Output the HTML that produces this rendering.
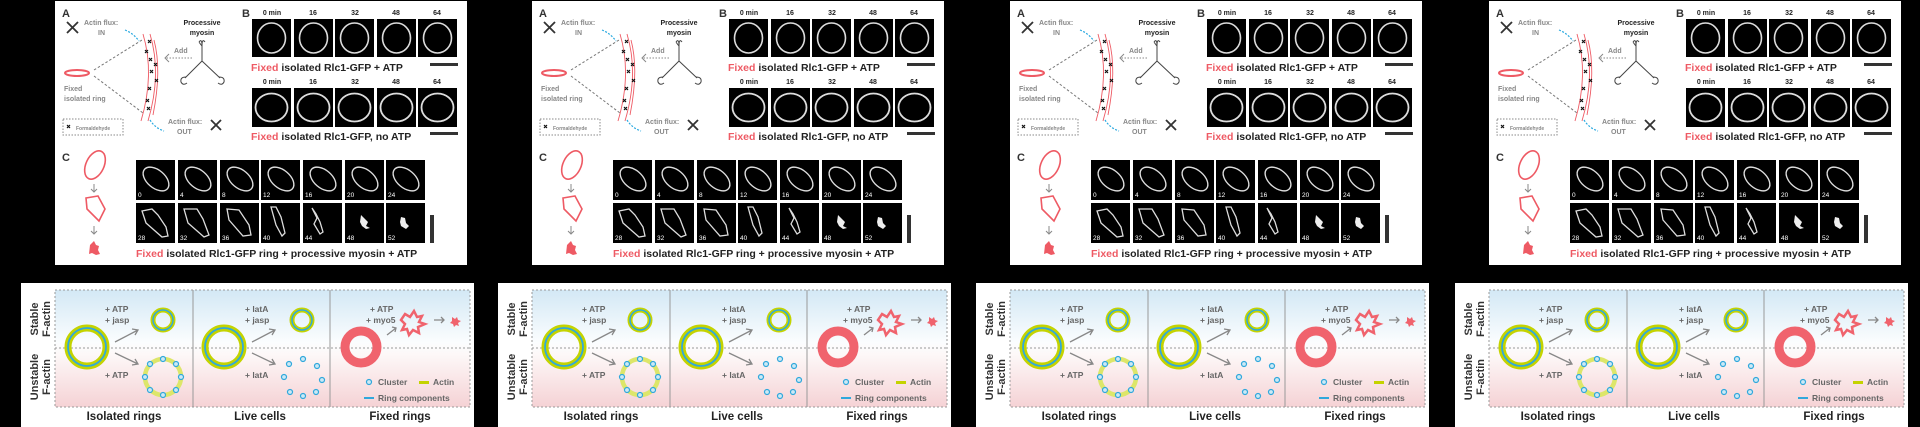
<!DOCTYPE html>
<html><head><meta charset="utf-8"><style>
html,body{margin:0;padding:0;background:#000;width:1920px;height:427px;overflow:hidden}
svg{display:block}
text{font-family:"Liberation Sans",Arial,sans-serif;font-weight:bold}
.g{fill:#888}.s{font-size:7px}.cap{font-size:10.5px;fill:#222}.r{fill:#ee5a64}.lb{font-size:7px;fill:#222}.w{fill:#fff;font-size:6.5px;font-weight:normal}
.bt{font-size:8.5px;fill:#666}.ax{font-size:11px;fill:#333}.big{font-size:11.5px;fill:#222}
</style></head><body>
<svg width="1920" height="427" viewBox="0 0 1920 427" xmlns="http://www.w3.org/2000/svg">
<defs>
<linearGradient id="bg" x1="0" y1="0" x2="0" y2="1">
<stop offset="0" stop-color="#d3e8f5"/><stop offset="0.45" stop-color="#fbfdfe"/><stop offset="0.55" stop-color="#fdf8f8"/><stop offset="1" stop-color="#f5d2d5"/></linearGradient>
<g id="fb1"><rect width="39" height="38" fill="#000"/><ellipse cx="19.5" cy="19" rx="14" ry="15" fill="none" stroke="#ddd" stroke-width="1.6"/></g>
<g id="fb2"><rect width="39" height="39" fill="#000"/><ellipse cx="19.5" cy="19.5" rx="16" ry="14" fill="none" stroke="#ddd" stroke-width="1.8"/></g>
<g id="fc"><rect width="39" height="40" fill="#000"/><ellipse cx="20" cy="19" rx="15" ry="9" transform="rotate(40 20 19)" fill="none" stroke="#ddd" stroke-width="1.4"/></g>
<g id="gfx">
<rect x="55" y="1" width="412" height="264" fill="#fff"/>
<path d="M67 22l11 11M78 22l-11 11M211 120l10 10M221 120l-10 10" stroke="#333" stroke-width="1.8"/>
<path d="M125 30q8 3 14 11M150 120q5 8 14 11" stroke="#29a9e0" stroke-width="1.2" fill="none" stroke-dasharray="2 1.5"/>
<path d="M94 70L142 40M94 76L143 113" stroke="#777" stroke-dasharray="2.5 2" fill="none"/>
<ellipse cx="77" cy="73" rx="12" ry="3" fill="none" stroke="#ee5a64" stroke-width="2"/>
<path d="M143 34q12 40 -2 87M150 34q12 40 -2 87M154 40q8 30 -1 75" stroke="#ee5a64" stroke-width="0.9" fill="none"/>
<g stroke="#111" stroke-width="1.2"><path d="M148 40l3 3m0-3l-3 3M145 50l3 3m0-3l-3 3M149 58l3 3m0-3l-3 3M154 63l3 3m0-3l-3 3M150 70l3 3m0-3l-3 3M155 79l3 3m0-3l-3 3M148 87l3 3m0-3l-3 3M146 99l3 3m0-3l-3 3M147 107l3 3m0-3l-3 3M67 125l3 3m0-3l-3 3"/></g>
<rect x="63" y="119" width="60" height="16" fill="none" stroke="#888" stroke-dasharray="1.5 1.5"/>
<path d="M192 58H165" stroke="#888" stroke-dasharray="1.5 1.5"/><path d="M169 54l-4 4 4 4" stroke="#888" fill="none"/>
<path d="M202 46v15M202 61l-17 17M202 61l18 17" stroke="#444" fill="none"/>
<path d="M199 42q3-4 3 4q0-8 3-4M199 42q2 3 3 4" stroke="#444" fill="none"/>
<path d="M186 77q-6 0-5 5q2 4 6 1M219 77q6 0 5 5q-2 4-6 1" stroke="#444" fill="none"/>
<use href="#fb1" x="252" y="19"/><use href="#fb1" x="294" y="19"/><use href="#fb1" x="335" y="19"/><use href="#fb1" x="377" y="19"/><use href="#fb1" x="418" y="19"/>
<use href="#fb2" x="252" y="88"/><use href="#fb2" x="294" y="88"/><use href="#fb2" x="335" y="88"/><use href="#fb2" x="377" y="88"/><use href="#fb2" x="418" y="88"/>
<rect x="430" y="63" width="28" height="3" fill="#333"/><rect x="430" y="132" width="28" height="3" fill="#333"/>
<ellipse cx="95" cy="165" rx="9" ry="15" transform="rotate(25 95 165)" fill="none" stroke="#ee5a64" stroke-width="1.6"/>
<path d="M94 184v8M91 189l3 3 3-3M94 226v8M91 231l3 3 3-3" stroke="#888" fill="none"/>
<path d="M86 198l12-2 7 13-6 12-12-12z" fill="none" stroke="#ee5a64" stroke-width="1.6"/>
<path d="M90 245l4-4 2 4 3 1-1 4 2 4-4 1-4-2-3 1z" fill="#ee5a64"/>
<use href="#fc" x="136" y="160"/><use href="#fc" x="178" y="160"/><use href="#fc" x="220" y="160"/><use href="#fc" x="261" y="160"/><use href="#fc" x="303" y="160"/><use href="#fc" x="345" y="160"/><use href="#fc" x="386" y="160"/>
<g fill="#000"><rect x="136" y="203" width="39" height="40"/><rect x="178" y="203" width="39" height="40"/><rect x="220" y="203" width="39" height="40"/><rect x="261" y="203" width="39" height="40"/><rect x="303" y="203" width="39" height="40"/><rect x="345" y="203" width="39" height="40"/><rect x="386" y="203" width="39" height="40"/></g>
<g fill="none" stroke="#ddd" stroke-width="1.3"><path d="M142 211l10-2 6 6 8 12 2 9-6 1-16-14z"/><path d="M184 209l13 0 6 10 6 16-5 2-16-14z"/><path d="M227 209l12 1 10 15 2 10-8 1-14-16z"/><path d="M271 207l5 18 6 11 3-3-4-16-5-10z"/><path d="M312 208l5 10-3 6 6 10 3-2-3-10-4-8z"/></g>
<path d="M361 215l4 4 3 3-2 4 4 2-4 1-4-3-2-4z M401 217l4 1 1 5 3 3-3 3-5-3-1-4z" fill="#eee"/>
<rect x="430" y="215" width="4" height="28" fill="#333"/>
<rect x="21" y="283" width="453" height="144" fill="#fff"/>
<rect x="55" y="290" width="415" height="117" fill="url(#bg)" stroke="#999" stroke-dasharray="2 2"/>
<path d="M55 348H470" stroke="#999" stroke-dasharray="2 2"/>
<path d="M193 290V407M330 290V407" stroke="#999" stroke-width="1"/>
<g fill="none"><circle cx="87" cy="347" r="19" stroke="#c4d300" stroke-width="7"/><circle cx="87" cy="347" r="19" stroke="#30a8dc" stroke-width="1.8"/>
<circle cx="163" cy="320" r="10" stroke="#c4d300" stroke-width="5"/><circle cx="163" cy="320" r="10" stroke="#30a8dc" stroke-width="1.5"/>
<circle cx="224" cy="347" r="19" stroke="#c4d300" stroke-width="7"/><circle cx="224" cy="347" r="19" stroke="#30a8dc" stroke-width="1.8"/>
<circle cx="302" cy="320" r="10" stroke="#c4d300" stroke-width="5"/><circle cx="302" cy="320" r="10" stroke="#30a8dc" stroke-width="1.5"/>
<circle cx="163" cy="377" r="18" stroke="#dde66a" stroke-width="4.5"/>
<circle cx="361" cy="347" r="16" stroke="#f0636d" stroke-width="9"/>
<path d="M115 342l23-12M132 329l6 1-3 5M115 353l23 11M132 365l6-1-3-5M252 342l23-12M269 329l6 1-3 5M252 353l23 11M269 365l6-1-3-5M387 335l9-7M392 327l4 1-1 4M434 320h10M441 317l3 3-3 3" stroke="#888" stroke-width="1.3"/>
<path d="M405 314l5 3 4-6 3 6 5-1-3 6 6 2-7 3 1 6-6-3-4 5-2-6-5 1 3-6-4-4z" stroke="#f0636d" stroke-width="2.5"/>
</g>
<path d="M452 317l3 2 2-2 1 3 3 1-3 2 1 3-3-1-2 2-1-3-3-1 2-2z" fill="#f0636d"/>
<g fill="#cde9f5" stroke="#30a8dc" stroke-width="1.2"><circle cx="163" cy="359" r="2.5"/><circle cx="176" cy="364" r="2.5"/><circle cx="181" cy="377" r="2.5"/><circle cx="176" cy="390" r="2.5"/><circle cx="163" cy="395" r="2.5"/><circle cx="150" cy="390" r="2.5"/><circle cx="145" cy="377" r="2.5"/><circle cx="150" cy="364" r="2.5"/>
<circle cx="303" cy="359" r="2.5"/><circle cx="317" cy="366" r="2.5"/><circle cx="322" cy="380" r="2.5"/><circle cx="316" cy="392" r="2.5"/><circle cx="303" cy="396" r="2.5"/><circle cx="290" cy="392" r="2.5"/><circle cx="284" cy="377" r="2.5"/><circle cx="289" cy="364" r="2.5"/>
<circle cx="369" cy="382" r="2.5"/></g>
<rect x="419" y="381" width="10" height="3" fill="#c4d300"/><rect x="364" y="397" width="10" height="2" fill="#30a8dc"/>
</g>
</defs>
<use href="#gfx" x="0"/><use href="#gfx" x="477"/><use href="#gfx" x="955"/><use href="#gfx" x="1434"/>

<g transform="translate(0 0)">
<text x="62" y="17" class="ax">A</text><text x="84" y="25" class="s g">Actin flux:</text><text x="98" y="35" class="s g">IN</text>
<text x="202" y="25" class="s" fill="#222" text-anchor="middle">Processive</text><text x="202" y="35" class="s" fill="#222" text-anchor="middle">myosin</text>
<text x="174" y="53" class="s g">Add</text><text x="64" y="91" class="s g">Fixed</text><text x="64" y="101" class="s g">isolated ring</text>
<text x="76" y="130" font-size="5" class="g">Formaldehyde</text><text x="168" y="124" class="s g">Actin flux:</text><text x="177" y="134" class="s g">OUT</text>
<text x="242" y="17" class="ax">B</text><text x="272" y="15" class="lb" text-anchor="middle">0 min</text><text x="313" y="15" class="lb" text-anchor="middle">16</text><text x="355" y="15" class="lb" text-anchor="middle">32</text><text x="396" y="15" class="lb" text-anchor="middle">48</text><text x="437" y="15" class="lb" text-anchor="middle">64</text>
<text x="251" y="71" class="cap"><tspan class="r">Fixed</tspan> isolated Rlc1-GFP + ATP</text>
<text x="272" y="84" class="lb" text-anchor="middle">0 min</text><text x="313" y="84" class="lb" text-anchor="middle">16</text><text x="355" y="84" class="lb" text-anchor="middle">32</text><text x="396" y="84" class="lb" text-anchor="middle">48</text><text x="437" y="84" class="lb" text-anchor="middle">64</text>
<text x="251" y="140" class="cap"><tspan class="r">Fixed</tspan> isolated Rlc1-GFP, no ATP</text>
<text x="62" y="161" class="ax">C</text>
<text x="138" y="197" class="w">0</text><text x="180" y="197" class="w">4</text><text x="222" y="197" class="w">8</text><text x="263" y="197" class="w">12</text><text x="305" y="197" class="w">16</text><text x="347" y="197" class="w">20</text><text x="388" y="197" class="w">24</text>
<text x="138" y="240" class="w">28</text><text x="180" y="240" class="w">32</text><text x="222" y="240" class="w">36</text><text x="263" y="240" class="w">40</text><text x="305" y="240" class="w">44</text><text x="347" y="240" class="w">48</text><text x="388" y="240" class="w">52</text>
<text x="136" y="257" class="cap"><tspan class="r">Fixed</tspan> isolated Rlc1-GFP ring + processive myosin + ATP</text>
<text transform="translate(38 319) rotate(-90)" class="ax" text-anchor="middle">Stable</text><text transform="translate(50 319) rotate(-90)" class="ax" text-anchor="middle">F-actin</text>
<text transform="translate(38 377) rotate(-90)" class="ax" text-anchor="middle">Unstable</text><text transform="translate(50 377) rotate(-90)" class="ax" text-anchor="middle">F-actin</text>
<text x="105" y="312" class="bt">+ ATP</text><text x="105" y="323" class="bt">+ jasp</text><text x="105" y="378" class="bt">+ ATP</text>
<text x="245" y="312" class="bt">+ latA</text><text x="245" y="323" class="bt">+ jasp</text><text x="245" y="378" class="bt">+ latA</text>
<text x="370" y="312" class="bt">+ ATP</text><text x="366" y="323" class="bt">+ myo5</text>
<text x="378" y="385" class="bt">Cluster</text><text x="433" y="385" class="bt">Actin</text><text x="378" y="401" class="bt">Ring components</text>
<text x="124" y="420" class="big" text-anchor="middle">Isolated rings</text><text x="260" y="420" class="big" text-anchor="middle">Live cells</text><text x="400" y="420" class="big r" text-anchor="middle">Fixed rings</text>
</g>

<g transform="translate(477 0)">
<text x="62" y="17" class="ax">A</text><text x="84" y="25" class="s g">Actin flux:</text><text x="98" y="35" class="s g">IN</text>
<text x="202" y="25" class="s" fill="#222" text-anchor="middle">Processive</text><text x="202" y="35" class="s" fill="#222" text-anchor="middle">myosin</text>
<text x="174" y="53" class="s g">Add</text><text x="64" y="91" class="s g">Fixed</text><text x="64" y="101" class="s g">isolated ring</text>
<text x="76" y="130" font-size="5" class="g">Formaldehyde</text><text x="168" y="124" class="s g">Actin flux:</text><text x="177" y="134" class="s g">OUT</text>
<text x="242" y="17" class="ax">B</text><text x="272" y="15" class="lb" text-anchor="middle">0 min</text><text x="313" y="15" class="lb" text-anchor="middle">16</text><text x="355" y="15" class="lb" text-anchor="middle">32</text><text x="396" y="15" class="lb" text-anchor="middle">48</text><text x="437" y="15" class="lb" text-anchor="middle">64</text>
<text x="251" y="71" class="cap"><tspan class="r">Fixed</tspan> isolated Rlc1-GFP + ATP</text>
<text x="272" y="84" class="lb" text-anchor="middle">0 min</text><text x="313" y="84" class="lb" text-anchor="middle">16</text><text x="355" y="84" class="lb" text-anchor="middle">32</text><text x="396" y="84" class="lb" text-anchor="middle">48</text><text x="437" y="84" class="lb" text-anchor="middle">64</text>
<text x="251" y="140" class="cap"><tspan class="r">Fixed</tspan> isolated Rlc1-GFP, no ATP</text>
<text x="62" y="161" class="ax">C</text>
<text x="138" y="197" class="w">0</text><text x="180" y="197" class="w">4</text><text x="222" y="197" class="w">8</text><text x="263" y="197" class="w">12</text><text x="305" y="197" class="w">16</text><text x="347" y="197" class="w">20</text><text x="388" y="197" class="w">24</text>
<text x="138" y="240" class="w">28</text><text x="180" y="240" class="w">32</text><text x="222" y="240" class="w">36</text><text x="263" y="240" class="w">40</text><text x="305" y="240" class="w">44</text><text x="347" y="240" class="w">48</text><text x="388" y="240" class="w">52</text>
<text x="136" y="257" class="cap"><tspan class="r">Fixed</tspan> isolated Rlc1-GFP ring + processive myosin + ATP</text>
<text transform="translate(38 319) rotate(-90)" class="ax" text-anchor="middle">Stable</text><text transform="translate(50 319) rotate(-90)" class="ax" text-anchor="middle">F-actin</text>
<text transform="translate(38 377) rotate(-90)" class="ax" text-anchor="middle">Unstable</text><text transform="translate(50 377) rotate(-90)" class="ax" text-anchor="middle">F-actin</text>
<text x="105" y="312" class="bt">+ ATP</text><text x="105" y="323" class="bt">+ jasp</text><text x="105" y="378" class="bt">+ ATP</text>
<text x="245" y="312" class="bt">+ latA</text><text x="245" y="323" class="bt">+ jasp</text><text x="245" y="378" class="bt">+ latA</text>
<text x="370" y="312" class="bt">+ ATP</text><text x="366" y="323" class="bt">+ myo5</text>
<text x="378" y="385" class="bt">Cluster</text><text x="433" y="385" class="bt">Actin</text><text x="378" y="401" class="bt">Ring components</text>
<text x="124" y="420" class="big" text-anchor="middle">Isolated rings</text><text x="260" y="420" class="big" text-anchor="middle">Live cells</text><text x="400" y="420" class="big r" text-anchor="middle">Fixed rings</text>
</g>

<g transform="translate(955 0)">
<text x="62" y="17" class="ax">A</text><text x="84" y="25" class="s g">Actin flux:</text><text x="98" y="35" class="s g">IN</text>
<text x="202" y="25" class="s" fill="#222" text-anchor="middle">Processive</text><text x="202" y="35" class="s" fill="#222" text-anchor="middle">myosin</text>
<text x="174" y="53" class="s g">Add</text><text x="64" y="91" class="s g">Fixed</text><text x="64" y="101" class="s g">isolated ring</text>
<text x="76" y="130" font-size="5" class="g">Formaldehyde</text><text x="168" y="124" class="s g">Actin flux:</text><text x="177" y="134" class="s g">OUT</text>
<text x="242" y="17" class="ax">B</text><text x="272" y="15" class="lb" text-anchor="middle">0 min</text><text x="313" y="15" class="lb" text-anchor="middle">16</text><text x="355" y="15" class="lb" text-anchor="middle">32</text><text x="396" y="15" class="lb" text-anchor="middle">48</text><text x="437" y="15" class="lb" text-anchor="middle">64</text>
<text x="251" y="71" class="cap"><tspan class="r">Fixed</tspan> isolated Rlc1-GFP + ATP</text>
<text x="272" y="84" class="lb" text-anchor="middle">0 min</text><text x="313" y="84" class="lb" text-anchor="middle">16</text><text x="355" y="84" class="lb" text-anchor="middle">32</text><text x="396" y="84" class="lb" text-anchor="middle">48</text><text x="437" y="84" class="lb" text-anchor="middle">64</text>
<text x="251" y="140" class="cap"><tspan class="r">Fixed</tspan> isolated Rlc1-GFP, no ATP</text>
<text x="62" y="161" class="ax">C</text>
<text x="138" y="197" class="w">0</text><text x="180" y="197" class="w">4</text><text x="222" y="197" class="w">8</text><text x="263" y="197" class="w">12</text><text x="305" y="197" class="w">16</text><text x="347" y="197" class="w">20</text><text x="388" y="197" class="w">24</text>
<text x="138" y="240" class="w">28</text><text x="180" y="240" class="w">32</text><text x="222" y="240" class="w">36</text><text x="263" y="240" class="w">40</text><text x="305" y="240" class="w">44</text><text x="347" y="240" class="w">48</text><text x="388" y="240" class="w">52</text>
<text x="136" y="257" class="cap"><tspan class="r">Fixed</tspan> isolated Rlc1-GFP ring + processive myosin + ATP</text>
<text transform="translate(38 319) rotate(-90)" class="ax" text-anchor="middle">Stable</text><text transform="translate(50 319) rotate(-90)" class="ax" text-anchor="middle">F-actin</text>
<text transform="translate(38 377) rotate(-90)" class="ax" text-anchor="middle">Unstable</text><text transform="translate(50 377) rotate(-90)" class="ax" text-anchor="middle">F-actin</text>
<text x="105" y="312" class="bt">+ ATP</text><text x="105" y="323" class="bt">+ jasp</text><text x="105" y="378" class="bt">+ ATP</text>
<text x="245" y="312" class="bt">+ latA</text><text x="245" y="323" class="bt">+ jasp</text><text x="245" y="378" class="bt">+ latA</text>
<text x="370" y="312" class="bt">+ ATP</text><text x="366" y="323" class="bt">+ myo5</text>
<text x="378" y="385" class="bt">Cluster</text><text x="433" y="385" class="bt">Actin</text><text x="378" y="401" class="bt">Ring components</text>
<text x="124" y="420" class="big" text-anchor="middle">Isolated rings</text><text x="260" y="420" class="big" text-anchor="middle">Live cells</text><text x="400" y="420" class="big r" text-anchor="middle">Fixed rings</text>
</g>

<g transform="translate(1434 0)">
<text x="62" y="17" class="ax">A</text><text x="84" y="25" class="s g">Actin flux:</text><text x="98" y="35" class="s g">IN</text>
<text x="202" y="25" class="s" fill="#222" text-anchor="middle">Processive</text><text x="202" y="35" class="s" fill="#222" text-anchor="middle">myosin</text>
<text x="174" y="53" class="s g">Add</text><text x="64" y="91" class="s g">Fixed</text><text x="64" y="101" class="s g">isolated ring</text>
<text x="76" y="130" font-size="5" class="g">Formaldehyde</text><text x="168" y="124" class="s g">Actin flux:</text><text x="177" y="134" class="s g">OUT</text>
<text x="242" y="17" class="ax">B</text><text x="272" y="15" class="lb" text-anchor="middle">0 min</text><text x="313" y="15" class="lb" text-anchor="middle">16</text><text x="355" y="15" class="lb" text-anchor="middle">32</text><text x="396" y="15" class="lb" text-anchor="middle">48</text><text x="437" y="15" class="lb" text-anchor="middle">64</text>
<text x="251" y="71" class="cap"><tspan class="r">Fixed</tspan> isolated Rlc1-GFP + ATP</text>
<text x="272" y="84" class="lb" text-anchor="middle">0 min</text><text x="313" y="84" class="lb" text-anchor="middle">16</text><text x="355" y="84" class="lb" text-anchor="middle">32</text><text x="396" y="84" class="lb" text-anchor="middle">48</text><text x="437" y="84" class="lb" text-anchor="middle">64</text>
<text x="251" y="140" class="cap"><tspan class="r">Fixed</tspan> isolated Rlc1-GFP, no ATP</text>
<text x="62" y="161" class="ax">C</text>
<text x="138" y="197" class="w">0</text><text x="180" y="197" class="w">4</text><text x="222" y="197" class="w">8</text><text x="263" y="197" class="w">12</text><text x="305" y="197" class="w">16</text><text x="347" y="197" class="w">20</text><text x="388" y="197" class="w">24</text>
<text x="138" y="240" class="w">28</text><text x="180" y="240" class="w">32</text><text x="222" y="240" class="w">36</text><text x="263" y="240" class="w">40</text><text x="305" y="240" class="w">44</text><text x="347" y="240" class="w">48</text><text x="388" y="240" class="w">52</text>
<text x="136" y="257" class="cap"><tspan class="r">Fixed</tspan> isolated Rlc1-GFP ring + processive myosin + ATP</text>
<text transform="translate(38 319) rotate(-90)" class="ax" text-anchor="middle">Stable</text><text transform="translate(50 319) rotate(-90)" class="ax" text-anchor="middle">F-actin</text>
<text transform="translate(38 377) rotate(-90)" class="ax" text-anchor="middle">Unstable</text><text transform="translate(50 377) rotate(-90)" class="ax" text-anchor="middle">F-actin</text>
<text x="105" y="312" class="bt">+ ATP</text><text x="105" y="323" class="bt">+ jasp</text><text x="105" y="378" class="bt">+ ATP</text>
<text x="245" y="312" class="bt">+ latA</text><text x="245" y="323" class="bt">+ jasp</text><text x="245" y="378" class="bt">+ latA</text>
<text x="370" y="312" class="bt">+ ATP</text><text x="366" y="323" class="bt">+ myo5</text>
<text x="378" y="385" class="bt">Cluster</text><text x="433" y="385" class="bt">Actin</text><text x="378" y="401" class="bt">Ring components</text>
<text x="124" y="420" class="big" text-anchor="middle">Isolated rings</text><text x="260" y="420" class="big" text-anchor="middle">Live cells</text><text x="400" y="420" class="big r" text-anchor="middle">Fixed rings</text>
</g>
</svg>
</body></html>
